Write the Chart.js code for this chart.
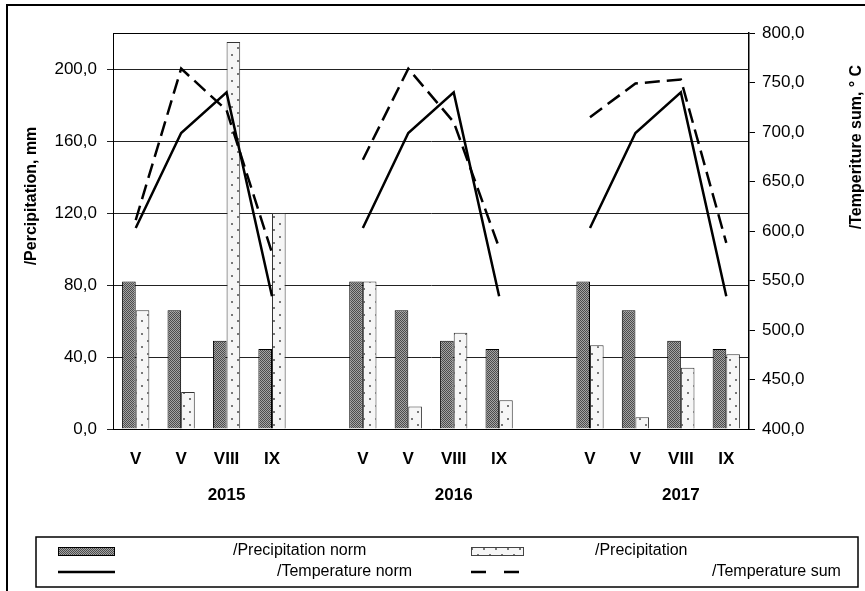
<!DOCTYPE html>
<html>
<head>
<meta charset="utf-8">
<script src="https://cdn.jsdelivr.net/npm/chart.js@4"></script>
<style>
  body { margin: 0; background: #fff; }
  .wrap { position: relative; width: 865px; height: 591px; }
</style>
</head>
<body>
<div class="wrap"><canvas id="myChart"></canvas></div>
<script>
// categories (empty slots separate the years)
const months = ['V', 'V', 'VIII', 'IX', '', 'V', 'V', 'VIII', 'IX', '', 'V', 'V', 'VIII', 'IX'];
const years = ['', '', '2015', '', '', '', '', '2016', '', '', '', '', '2017', ''];

// precipitation, mm (left axis)
const precipNorm = [82, 66, 49, 44.5, null, 82, 66, 49, 44.5, null, 82, 66, 49, 44.5];
const precip = [66, 20.5, 215, 120, null, 82, 12.5, 53.5, 16, null, 46.5, 6.5, 34, 41.5];

// temperature sum, deg C (right axis)
const tempNorm = [603, 699, 740, 534, null, 603, 699, 740, 534, null, 603, 699, 740, 534];
const tempSum = [611, 764, 722, 578, null, 672, 764, 710, 583, null, 715, 749, 753, 588];

const legendNames = ['/Precipitation norm', '/Precipitation', '/Temperature norm', '/Temperature sum'];

function makePattern(w, h, bg, draw) {
  let c = document.createElement('canvas');
  c.width = w; c.height = h;
  let g = c.getContext('2d');
  g.fillStyle = bg;
  g.fillRect(0, 0, w, h);
  draw(g);
  return g.createPattern(c, 'repeat');
}

const darkFill = makePattern(2, 2, '#a4a4a4', g => {
  g.fillStyle = '#4c4c4c';
  g.fillRect(0, 0, 1, 1);
  g.fillRect(1, 1, 1, 1);
});
const dotFill = makePattern(12, 13, '#f6f6f6', g => {
  g.fillStyle = '#777';
  g.fillRect(3, 2, 2, 2);
  g.fillRect(9, 8, 2, 2);
});

function fmt(v) {
  return Number(v).toFixed(1).replace('.', ',');
}

const font = 'Liberation Sans, Arial, sans-serif';

const extras = {
  id: 'extras',
  afterDraw(chart) {
    const c = chart.ctx;
    const a = chart.chartArea;
    c.save();
    // outer frame
    c.strokeStyle = '#000';
    c.lineWidth = 2;
    c.strokeRect(7, 5, 900, 700);
    // top of plot
    c.lineWidth = 1;
    c.beginPath();
    c.moveTo(a.left, a.top + 0.5);
    c.lineTo(a.right, a.top + 0.5);
    c.stroke();

    // axis titles
    c.fillStyle = '#000';
    c.font = 'bold 16px ' + font;
    c.textAlign = 'center';
    c.textBaseline = 'middle';
    c.save();
    c.translate(32, 196);
    c.rotate(-Math.PI / 2);
    c.fillText('/Percipitation, mm', 0, 0);
    c.restore();
    c.save();
    c.translate(857, 147);
    c.rotate(-Math.PI / 2);
    c.fillText('/Temperiture sum, ° C', 0, 0);
    c.restore();

    // legend box
    c.lineWidth = 1.5;
    c.strokeStyle = '#000';
    c.strokeRect(36, 537, 822, 50);
    c.fillStyle = darkFill;
    c.fillRect(58, 547, 56, 8);
    c.lineWidth = 1;
    c.strokeRect(58.5, 547.5, 56, 8);
    c.fillStyle = dotFill;
    c.fillRect(471, 547, 52, 8);
    c.strokeStyle = '#444';
    c.strokeRect(471.5, 547.5, 52, 8);
    c.strokeStyle = '#000';
    c.lineWidth = 2.5;
    c.beginPath();
    c.moveTo(58, 572);
    c.lineTo(115, 572);
    c.stroke();
    c.setLineDash([15, 18]);
    c.beginPath();
    c.moveTo(471, 572);
    c.lineTo(521, 572);
    c.stroke();
    c.setLineDash([]);

    c.fillStyle = '#000';
    c.font = '16px ' + font;
    c.textAlign = 'left';
    c.fillText(legendNames[0], 233, 551);
    c.fillText(legendNames[1], 595, 551);
    c.fillText(legendNames[2], 277, 572);
    c.fillText(legendNames[3], 712, 572);
    c.restore();
  }
};

const ctx = document.getElementById('myChart');
new Chart(ctx, {
  type: 'bar',
  data: {
    labels: months,
    datasets: [
      {
        type: 'line',
        label: legendNames[2],
        data: tempNorm,
        yAxisID: 'y2',
        borderColor: '#000',
        borderWidth: 2.5,
        pointRadius: 0,
        tension: 0,
        spanGaps: false,
        order: 0
      },
      {
        type: 'line',
        label: legendNames[3],
        data: tempSum,
        yAxisID: 'y2',
        borderColor: '#000',
        borderWidth: 2.5,
        borderDash: [15, 7],
        pointRadius: 0,
        tension: 0,
        spanGaps: false,
        order: 0
      },
      {
        label: legendNames[0],
        data: precipNorm,
        yAxisID: 'y',
        backgroundColor: darkFill,
        borderColor: '#000',
        borderWidth: 1,
        categoryPercentage: 0.6,
        barPercentage: 1,
        order: 1
      },
      {
        label: legendNames[1],
        data: precip,
        yAxisID: 'y',
        backgroundColor: dotFill,
        borderColor: '#333',
        borderWidth: 1,
        categoryPercentage: 0.6,
        barPercentage: 1,
        order: 1
      }
    ]
  },
  options: {
    responsive: true,
    maintainAspectRatio: false,
    animation: false,
    layout: { padding: { left: 0, right: 0, top: 33, bottom: 77 } },
    plugins: { legend: { display: false }, tooltip: { enabled: false } },
    scales: {
      x: {
        position: 'bottom',
        weight: 0,
        grid: { display: false, drawTicks: false },
        border: { display: true, color: '#000', width: 1 },
        ticks: {
          autoSkip: false, maxRotation: 0, padding: 20, color: '#000',
          font: { family: font, size: 17, weight: 'bold' }
        },
        afterFit: s => { s.height = 45; }
      },
      x2: {
        type: 'category',
        labels: years,
        position: 'bottom',
        weight: 1,
        offset: true,
        grid: { display: false, drawTicks: false },
        border: { display: false },
        ticks: {
          autoSkip: false, maxRotation: 0, padding: 11, color: '#000',
          font: { family: font, size: 17, weight: 'bold' }
        },
        afterFit: s => { s.height = 40; }
      },
      y: {
        position: 'left',
        min: 0,
        max: 220,
        grid: { color: '#222', lineWidth: 1, tickLength: 6 },
        border: { display: true, color: '#000', width: 1 },
        ticks: {
          stepSize: 40, padding: 10, color: '#000',
          font: { family: font, size: 17 },
          callback: v => fmt(v)
        },
        afterBuildTicks: s => { s.ticks = s.ticks.filter(t => t.value <= 200); },
        afterFit: s => { s.width = 113; }
      },
      y2: {
        position: 'right',
        min: 400,
        max: 800,
        grid: { drawOnChartArea: false, color: '#000', tickLength: 6 },
        border: { display: true, color: '#000', width: 1.5 },
        ticks: {
          stepSize: 50, padding: 7, color: '#000',
          font: { family: font, size: 17 },
          callback: v => fmt(v)
        },
        afterFit: s => { s.width = 116; }
      }
    }
  },
  plugins: [extras]
});
</script>
</body>
</html>
